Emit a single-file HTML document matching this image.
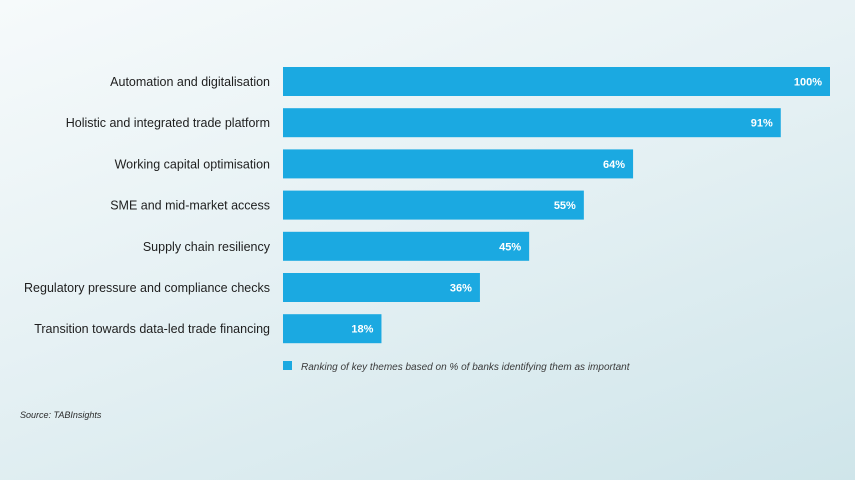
<!DOCTYPE html>
<html><head><meta charset="utf-8"><style>
html,body{margin:0;padding:0}
body{width:855px;height:480px;overflow:hidden;background:linear-gradient(160deg,#f6fafb 0%,#e6f1f4 45%,#cfe5ea 100%);font-family:"Liberation Sans",sans-serif;position:relative}
svg{position:absolute;left:0;top:0}
</style></head><body>
<svg id="chart" width="855" height="480" xmlns="http://www.w3.org/2000/svg">
<g id="bars"></g>
<rect x="283" y="361" width="9" height="9" fill="#1ba9e1"/>
<text x="301" y="370" font-size="10" font-style="italic" fill="#3a3a3a">Ranking of key themes based on % of banks identifying them as important</text>
<text x="20" y="418" font-size="9" font-style="italic" fill="#2a2a2a">Source: TABInsights</text>
</svg>
<script>
const categories=["Automation and digitalisation","Holistic and integrated trade platform","Working capital optimisation","SME and mid-market access","Supply chain resiliency","Regulatory pressure and compliance checks","Transition towards data-led trade financing"];
const values=[100,91,64,55,45,36,18];
const x0=283,xScale=v=>x0+v*5.47;
const yTop=i=>67+i*41.2,bh=29;
const g=document.getElementById('bars');
const NS="http://www.w3.org/2000/svg";
categories.forEach((c,i)=>{
  const y=yTop(i),v=values[i];
  const r=document.createElementNS(NS,'rect');
  
  
  r.setAttribute('x',x0);r.setAttribute('y',y);r.setAttribute('width',xScale(v)-x0);r.setAttribute('height',bh);r.setAttribute('fill','#1ba9e1');
  g.appendChild(r);
  const l=document.createElementNS(NS,'text');
  
  
  l.setAttribute('x',270);l.setAttribute('y',y+bh/2+4.5);l.setAttribute('text-anchor','end');l.setAttribute('font-size','12.5');l.setAttribute('fill','#1e1e1e');
  l.textContent=c;g.appendChild(l);
  const t=document.createElementNS(NS,'text');
  
  
  t.setAttribute('x',xScale(v)-8);t.setAttribute('y',y+bh/2+4);t.setAttribute('text-anchor','end');t.setAttribute('font-size','11');t.setAttribute('font-weight','bold');t.setAttribute('fill','#ffffff');
  t.textContent=v+'%';g.appendChild(t);
});
</script>
</body></html>
